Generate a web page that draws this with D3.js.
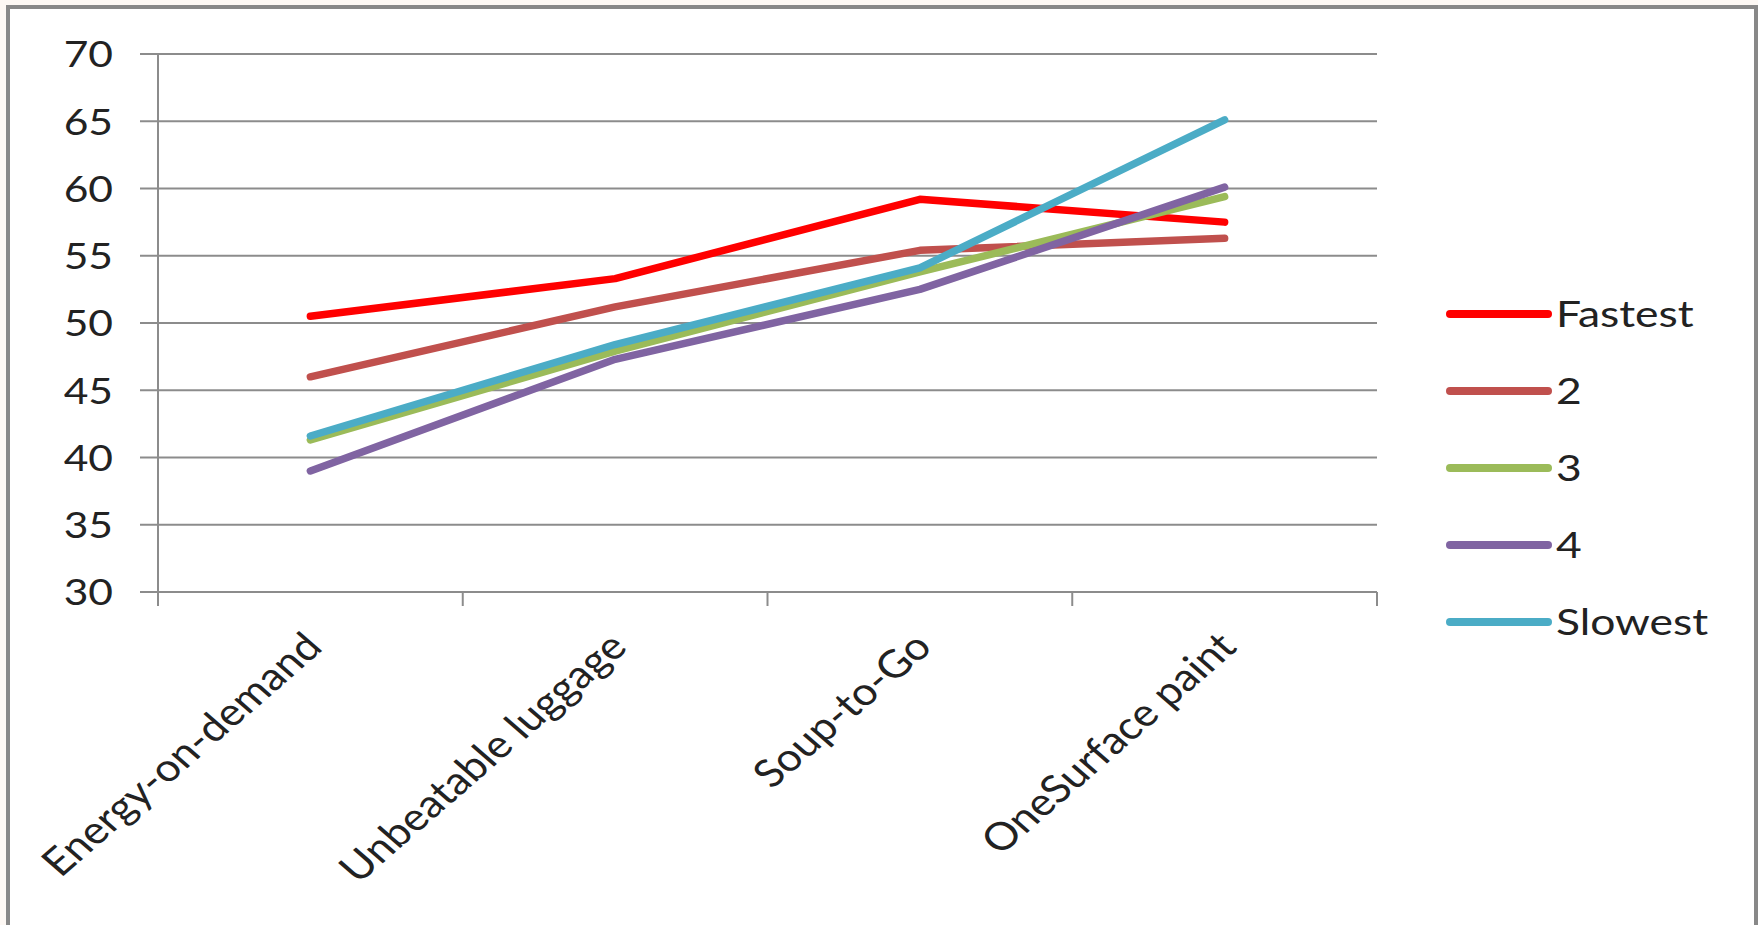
<!DOCTYPE html>
<html>
<head>
<meta charset="utf-8">
<script src="https://cdn.jsdelivr.net/npm/d3@7"></script>
<style>
  html, body { margin: 0; padding: 0; background: #fdf8f4; }
  svg { display: block; }
  text { font-family: Lato, "Open Sans", sans-serif; fill: #222; }
</style>
</head>
<body>
<svg id="chart" width="1758" height="925"></svg>
<script>
// Product categories along the x axis
const categories = ["Energy-on-demand", "Unbeatable luggage", "Soup-to-Go", "OneSurface paint"];

// Series, fastest to slowest
const seriesNames = ["Fastest", "2", "3", "4", "Slowest"];
const fastest = [50.5, 53.3, 59.2, 57.5];
const second  = [46.0, 51.2, 55.4, 56.3];
const third   = [41.3, 47.9, 53.8, 59.4];
const fourth  = [39.0, 47.3, 52.5, 60.1];
const slowest = [41.6, 48.4, 54.1, 65.1];
const seriesColors = ["#ff0000", "#c0504d", "#9bbb59", "#8064a2", "#4bacc6"];

// Value axis ticks
const yTicks = [30, 35, 40, 45, 50, 55, 60, 65, 70];

const series = seriesNames.map((name, i) => ({
  name,
  color: seriesColors[i],
  values: [fastest, second, third, fourth, slowest][i]
}));

const svg = d3.select("#chart");
const stretch = 1.15; // wide text rendering

// chart frame
svg.append("rect")
  .attr("x", 8).attr("y", 7)
  .attr("width", 1748).attr("height", 940)
  .attr("fill", "#ffffff")
  .attr("stroke", "#888888")
  .attr("stroke-width", 4);

const plot = { left: 158, right: 1377, top: 54, bottom: 592 };

const x = d3.scaleBand().domain(categories).range([plot.left, plot.right]);
const y = d3.scaleLinear().domain([30, 70]).range([plot.bottom, plot.top]);

// horizontal gridlines with left tick stubs
svg.append("g").selectAll("line")
  .data(yTicks)
  .join("line")
  .attr("x1", plot.left - 18).attr("x2", plot.right)
  .attr("y1", d => y(d)).attr("y2", d => y(d))
  .attr("stroke", "#8c8c8c").attr("stroke-width", 2);

// value axis line
svg.append("line")
  .attr("x1", plot.left).attr("x2", plot.left)
  .attr("y1", y(70)).attr("y2", plot.bottom + 14)
  .attr("stroke", "#8c8c8c").attr("stroke-width", 2);

// category axis tick marks at band edges
const edges = categories.map(c => x(c)).concat([x(categories[categories.length - 1]) + x.bandwidth()]);
svg.append("g").selectAll("line")
  .data(edges)
  .join("line")
  .attr("x1", d => d).attr("x2", d => d)
  .attr("y1", plot.bottom).attr("y2", plot.bottom + 14)
  .attr("stroke", "#8c8c8c").attr("stroke-width", 2);

// value labels
svg.append("g").selectAll("text")
  .data(yTicks)
  .join("text")
  .attr("transform", d => `translate(113,${y(d)}) scale(${stretch},1)`)
  .attr("text-anchor", "end")
  .attr("dy", "0.36em")
  .attr("font-size", 37)
  .text(d => d);

// category labels, rotated
svg.append("g").selectAll("text")
  .data(categories)
  .join("text")
  .attr("transform", d => `translate(${x(d) + x.bandwidth() / 2 - 8},${plot.bottom + 38}) scale(${stretch},1) rotate(-45)`)
  .attr("text-anchor", "end")
  .attr("dy", "0.7em")
  .attr("font-size", 38.5)
  .text(d => d);

// series lines
const line = d3.line()
  .x((d, i) => x(categories[i]) + x.bandwidth() / 2)
  .y(d => y(d));

svg.append("g").selectAll("path")
  .data(series)
  .join("path")
  .attr("d", d => line(d.values))
  .attr("fill", "none")
  .attr("stroke", d => d.color)
  .attr("stroke-width", 7.5)
  .attr("stroke-linecap", "round")
  .attr("stroke-linejoin", "round");

// legend
const legend = svg.append("g").selectAll("g")
  .data(series)
  .join("g")
  .attr("transform", (d, i) => `translate(1450,${314 + i * 77})`);

legend.append("line")
  .attr("x1", 0).attr("x2", 98)
  .attr("stroke", d => d.color)
  .attr("stroke-width", 8)
  .attr("stroke-linecap", "round");

legend.append("text")
  .attr("transform", `translate(106,0) scale(1.2,1)`)
  .attr("dy", "0.36em")
  .attr("font-size", 37)
  .text(d => d.name);
</script>
</body>
</html>
